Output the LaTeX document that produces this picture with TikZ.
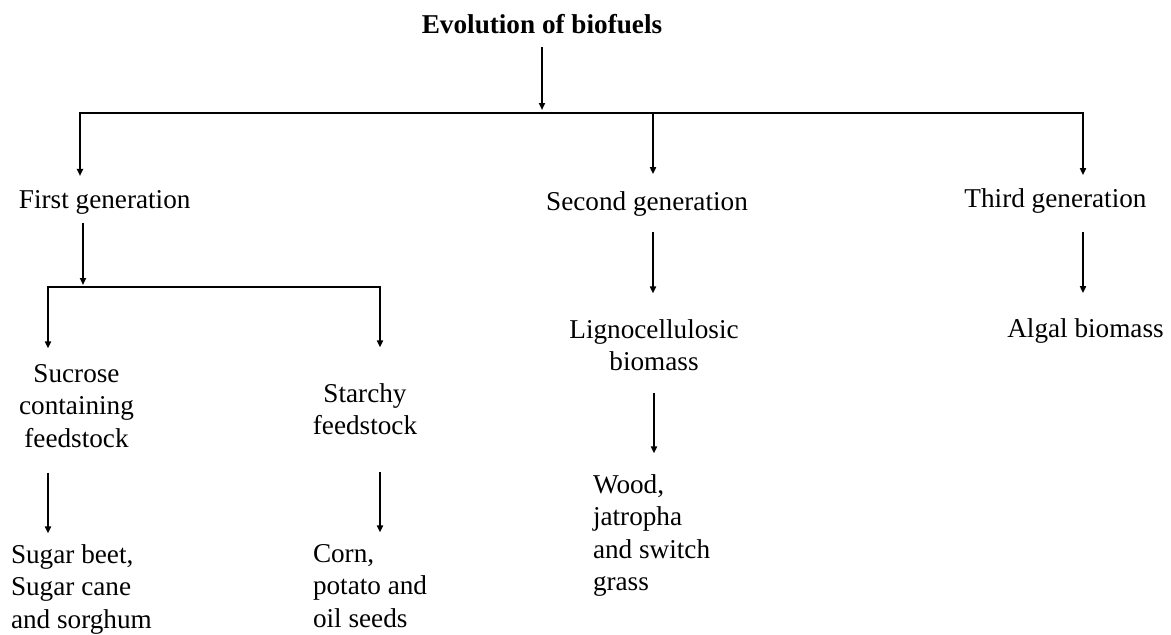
\documentclass[tikz,border=0pt]{standalone}
\usepackage{fontspec}
\setmainfont{Liberation Serif}
\usetikzlibrary{arrows.meta}
\begin{document}
\begin{tikzpicture}[x=1pt,y=-1pt,
  lbl/.style={inner sep=0pt, outer sep=0pt, font=\fontsize{27.2}{32.5}\selectfont},
  ttl/.style={inner sep=0pt, outer sep=0pt, font=\bfseries\fontsize{27.2}{32.5}\selectfont},
  bar/.style={line width=2pt, line cap=rect},
  arr/.style={line width=2pt, -{Triangle[length=7pt,width=6pt]}}]
\useasboundingbox (0,0) rectangle (1171,635);

% labels
\node[ttl, anchor=base] (title) at (542,33) {Evolution of biofuels};
\node[lbl, anchor=base west] (fg) at (19,208) {First generation};
\node[lbl, anchor=base] (sg) at (647,210) {Second generation};
\node[lbl, anchor=base] (tg) at (1055.5,207) {Third generation};

\node[lbl, anchor=north, align=center] (suc) at (76.5,364.4) {Sucrose\\containing\\feedstock};
\node[lbl, anchor=north, align=center] (sta) at (365,383.4) {Starchy\\feedstock};
\node[lbl, anchor=north, align=center] (lig) at (654,319.4) {Lignocellulosic\\biomass};
\node[lbl, anchor=base] (alg) at (1085.5,337) {Algal biomass};

\node[lbl, anchor=north west, align=left] (sug) at (11,544.4) {Sugar beet,\\Sugar cane\\and sorghum};
\node[lbl, anchor=north west, align=left] (crn) at (313,544.4) {Corn,\\potato and\\oil seeds};
\node[lbl, anchor=north west, align=left] (wod) at (593,474.4) {Wood,\\jatropha\\and switch\\grass};

% junction points and columns
\coordinate (hub) at (542,113);
\coordinate (bl) at (80,113);
\coordinate (bm) at (653,113);
\coordinate (br) at (1083,113);
\coordinate (sub) at (83,287);
\coordinate (sl) at (48,287);
\coordinate (sr) at (380,287);
\coordinate (colL) at (654,0);

% top level
\draw[arr, shorten <=14pt, shorten >=3pt] (title.south) -- (hub);
\draw[bar] (bl) -- (br);
\draw[arr, shorten >=14pt] (bl) -- (bl |- fg.north);
\draw[arr, shorten >=17pt] (bm) -- (bm |- sg.north);
\draw[arr, shorten >=13pt] (br) -- (br |- tg.north);

% first generation branch
\draw[arr, shorten <=9pt, shorten >=2pt] (sub |- fg.south) -- (sub);
\draw[bar] (sl) -- (sr);
\draw[arr, shorten >=16pt] (sl) -- (sl |- suc.north);
\draw[arr, shorten >=36pt] (sr) -- (sr |- sta.north);
\draw[arr, shorten <=25pt, shorten >=11pt] (sl |- suc.south) -- (sl |- sug.north);
\draw[arr, shorten <=37pt, shorten >=12pt] (sr |- sta.south) -- (sr |- crn.north);

% second generation branch
\draw[arr, shorten <=16pt, shorten >=26pt] (bm |- sg.south) -- (bm |- lig.north);
\draw[arr, shorten <=22pt, shorten >=21pt] (colL |- lig.south) -- (colL |- wod.north);

% third generation branch
\draw[arr, shorten <=19pt, shorten >=25pt] (br |- tg.south) -- (br |- alg.north);
\end{tikzpicture}
\end{document}
